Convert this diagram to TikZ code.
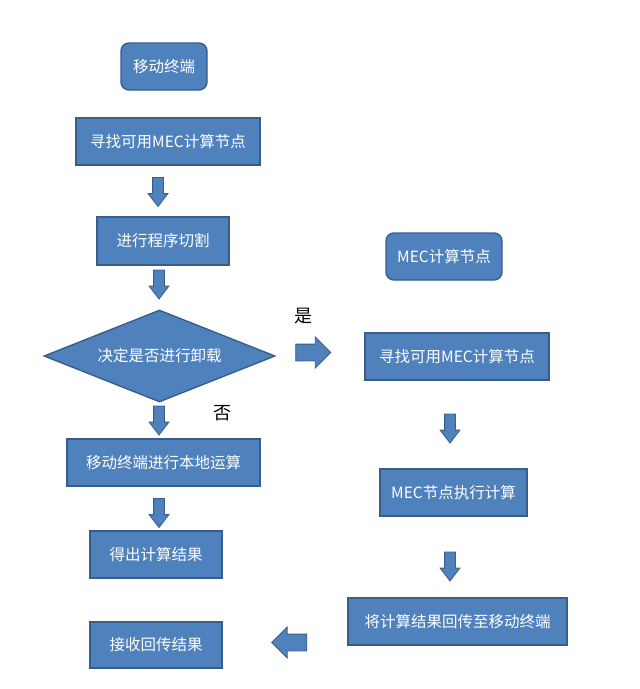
\documentclass[tikz,border=0pt]{standalone}
\usepackage{fontspec}
\setmainfont{Noto Sans CJK SC}
\usetikzlibrary{shapes.geometric,shapes.arrows}
\definecolor{boxblue}{HTML}{4F81BD}
\definecolor{boxedge}{HTML}{385D8A}
\tikzset{
  procbox/.style={draw=boxedge, fill=boxblue, line width=1.4pt, text=white,
    font=\fontsize{15.5}{17}\selectfont, inner sep=0pt},
  startbox/.style={procbox, rounded corners=8pt},
  decbox/.style={procbox, diamond, aspect=2.5},
  downarrow/.style={single arrow, draw=boxedge, fill=boxblue, line width=0.8pt,
    inner sep=5pt, single arrow head extend=4.5pt,
    single arrow tip angle=75, minimum height=29pt, shape border rotate=270},
  sidearrow/.style={single arrow, draw=boxedge, fill=boxblue, line width=0.8pt,
    inner sep=8pt, single arrow head extend=7pt,
    single arrow tip angle=90, minimum height=35pt},
  yesno/.style={font=\fontsize{18}{20}\selectfont, text=black}
}
\begin{document}
\begin{tikzpicture}[x=1pt,y=-1pt]
\useasboundingbox (0,0) rectangle (640,689);
% 移动终端一侧
\node[startbox, minimum width=86pt, minimum height=47pt] (term) at (164,66.5) {移动终端};
\node[procbox, minimum width=184pt, minimum height=47pt] (find) at (168,141.5) {寻找可用MEC计算节点};
\node[downarrow] (a1) at (158,188.5) {};
\node[procbox, minimum width=132pt, minimum height=48pt] (split) at (163,241) {进行程序切割};
\node[downarrow] (a2) at (159,281) {};
\node[decbox, minimum width=231pt, minimum height=92pt] (decide) at (159.5,356) {决定是否进行卸载};
\node[downarrow] (a3) at (159,417) {};
\node[yesno] (no) at (222,413) {否};
\node[procbox, minimum width=193pt, minimum height=47pt] (local) at (163.5,462.5) {移动终端进行本地运算};
\node[downarrow] (a4) at (159,509.5) {};
\node[procbox, minimum width=132pt, minimum height=47pt] (result) at (156,554.5) {得出计算结果};
\node[procbox, minimum width=132pt, minimum height=46pt] (recv) at (156,645) {接收回传结果};
% MEC一侧
\node[yesno] (yes) at (303,316) {是};
\node[sidearrow] (a5) at (309,352.5) {};
\node[startbox, minimum width=116pt, minimum height=47pt] (mec) at (444,256.5) {MEC计算节点};
\node[procbox, minimum width=184pt, minimum height=47pt] (mecfind) at (457,356.5) {寻找可用MEC计算节点};
\node[downarrow] (a6) at (450,425) {};
\node[procbox, minimum width=147pt, minimum height=47pt] (exec) at (453.5,492.5) {MEC节点执行计算};
\node[downarrow] (a7) at (450,563) {};
\node[procbox, minimum width=219pt, minimum height=47pt] (back) at (457.5,621.5) {将计算结果回传至移动终端};
\node[sidearrow, shape border rotate=180] (a8) at (293.5,642.5) {};
\end{tikzpicture}
\end{document}
